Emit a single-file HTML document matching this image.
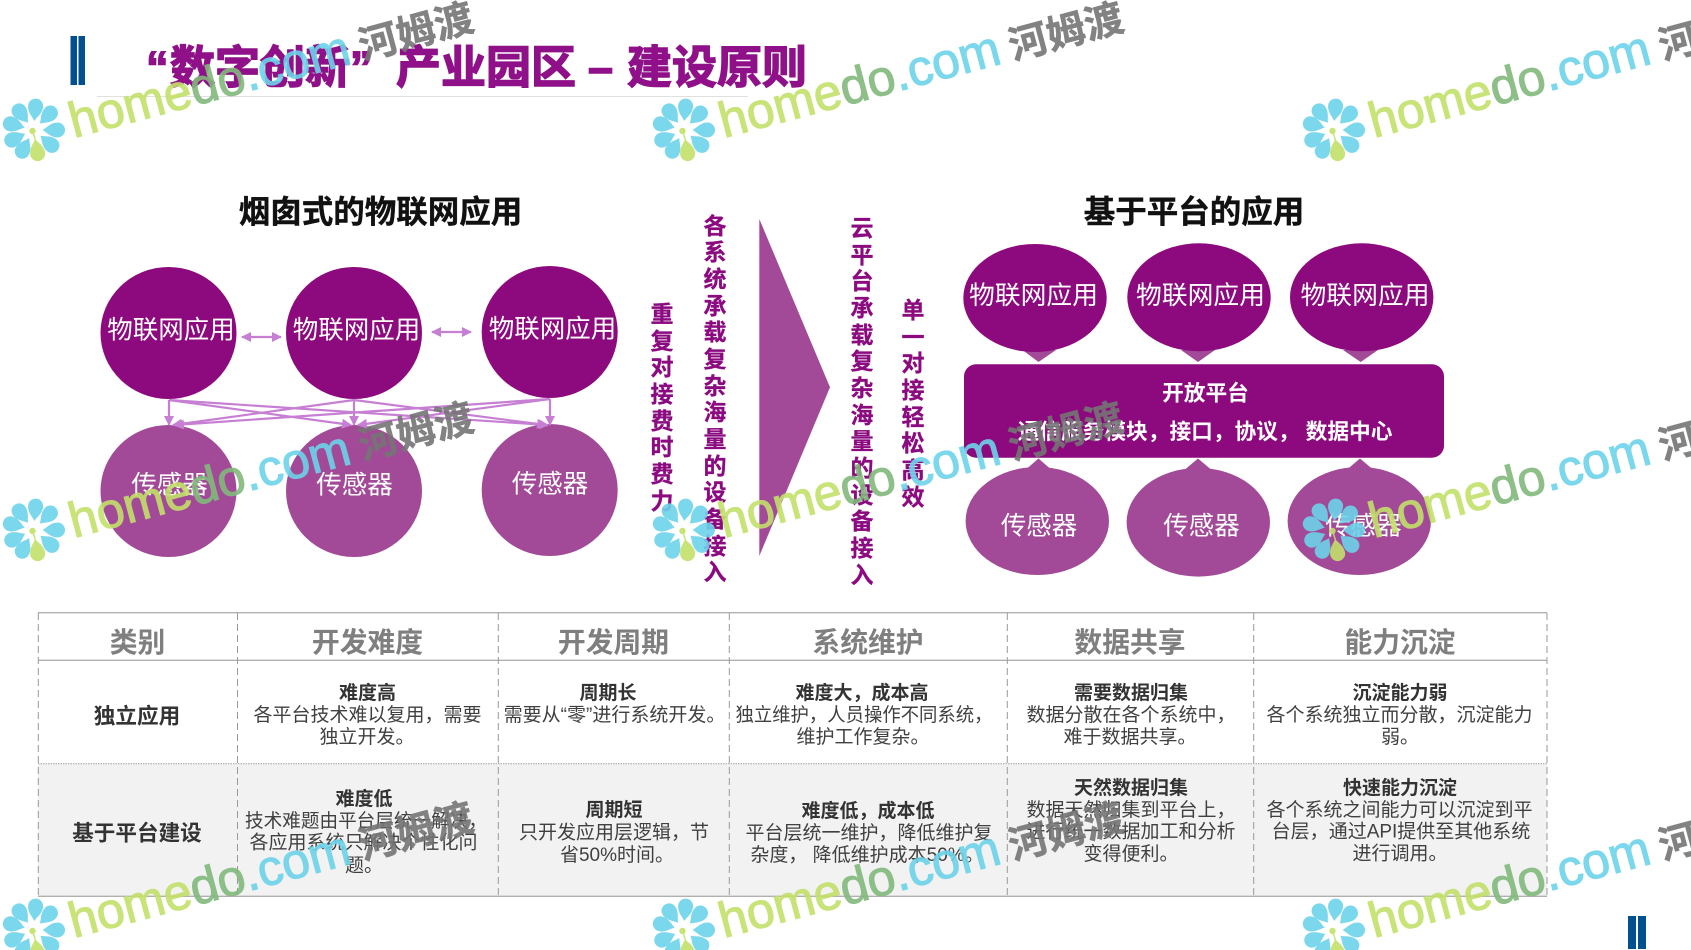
<!DOCTYPE html>
<html lang="zh-CN"><head><meta charset="utf-8"><title>“数字创新” 产业园区 – 建设原则</title>
<style>
html,body{margin:0;padding:0;background:#fff}
#p{position:relative;width:1691px;height:950px;overflow:hidden;background:#fff;font-family:"Liberation Sans","Noto Sans CJK SC",sans-serif}
svg{position:absolute;left:0;top:0}
svg text{font-family:"Liberation Sans","Noto Sans CJK SC",sans-serif}
svg tspan.p{font-family:"Noto Sans CJK TC",sans-serif}
.v{position:absolute;width:26px;font-size:23px;line-height:26.67px;font-weight:bold;color:#8b0a80;text-align:center;word-break:break-all;z-index:1;-webkit-text-stroke:.3px #8b0a80}
.t{font-size:45px;font-weight:bold;fill:#8f1088;stroke:#8f1088;stroke-width:1.4}
.h{font-size:31.5px;font-weight:bold;fill:#111;text-anchor:middle;stroke:#111;stroke-width:.4}
.w{font-size:25.5px;fill:#fff;text-anchor:middle}
.b{font-size:21.7px;font-weight:bold;fill:#fff;text-anchor:middle}
.th{font-size:27.8px;font-weight:bold;fill:#7f7f7f;text-anchor:middle}
.l{font-size:21.6px;font-weight:bold;fill:#333;text-anchor:middle}
.c{font-size:19px;fill:#404040;text-anchor:middle}
.s{font-size:19px;font-weight:bold;fill:#333;text-anchor:middle}
.hm{font-size:50px;stroke-width:1.1}
.g1{fill:#c3e06a;stroke:#c3e06a}
.g2{fill:#82b97c;stroke:#82b97c}
.g3{fill:#6dd3ea;stroke:#6dd3ea}
.he{font-size:39px;font-weight:bold;fill:#757575;stroke:#757575;stroke-width:.5}
</style></head><body><div id="p">
<svg width="1691" height="950" viewBox="0 0 1691 950" xmlns="http://www.w3.org/2000/svg">
<defs>
<marker id="a" viewBox="0 0 10 10" refX="9" refY="5" markerWidth="10" markerHeight="10" markerUnits="userSpaceOnUse" orient="auto-start-reverse"><path d="M0,0L10,5L0,10Z" fill="#c67fd3"/></marker>
<path id="pt" d="M0,-9C-2,-13 -7.5,-17 -7.5,-24A7.5 7.5 0 0 1 7.5,-24C7.5,-17 2,-13 0,-9Z"/>
<g id="fl">
<g fill="#6dd3ea">
<use href="#pt" transform="rotate(5)"/>
<use href="#pt" transform="rotate(45)"/>
<use href="#pt" transform="rotate(90)"/>
<use href="#pt" transform="rotate(130)"/>
<use href="#pt" transform="rotate(208)"/>
<use href="#pt" transform="rotate(245)"/>
<use href="#pt" transform="rotate(285)"/>
<use href="#pt" transform="rotate(323)"/>
</g>
<g fill="#c3e06a">
<use href="#pt" transform="rotate(170)"/>
<circle cx="-1" cy="1" r="3.2"/><path d="M-1,1L2,10" stroke="#c3e06a" stroke-width="1.4"/>
</g>
</g>
</defs>

<!-- header -->
<rect x="70.5" y="36" width="6.5" height="49" fill="#02508f"/><rect x="78.5" y="36" width="6.5" height="49" fill="#02508f"/>
<line x1="97" y1="96.5" x2="748" y2="96.5" stroke="#e0e0e0" stroke-width="1"/>
<text class="t" y="83" x="146">“</text>
<text class="t" y="83" x="170">数字创新</text>
<text class="t" y="83" x="350">”</text>
<text class="t" y="83" x="396">产业园区</text>
<text class="t" y="83" x="588">–</text>
<text class="t" y="83" x="627">建设原则</text>

<text class="h" x="380.5" y="222.5">烟囱式的物联网应用</text>
<text class="h" x="1194" y="222.5">基于平台的应用</text>

<!-- left circles -->
<g fill="#8c0a7e">
<ellipse cx="168.5" cy="333" rx="68" ry="66"/><ellipse cx="354" cy="333" rx="68" ry="66"/><ellipse cx="549.7" cy="332" rx="68" ry="66"/>
</g>
<g fill="#a24a98">
<ellipse cx="168.5" cy="491" rx="68" ry="66"/><ellipse cx="354" cy="491" rx="68" ry="66"/><ellipse cx="549.7" cy="490" rx="68" ry="66"/>
</g>
<text class="w" x="171" y="338.5">物联网应用</text><text class="w" x="356.5" y="338.5">物联网应用</text><text class="w" x="552.5" y="337.5">物联网应用</text>
<text class="w" x="169.5" y="493.5">传感器</text><text class="w" x="354.5" y="493.5">传感器</text><text class="w" x="550" y="492.5">传感器</text>

<g stroke="#c67fd3" stroke-width="2.2" fill="none">
<line x1="242" y1="337" x2="281" y2="337" marker-start="url(#a)" marker-end="url(#a)"/>
<line x1="432" y1="332" x2="471" y2="332" marker-start="url(#a)" marker-end="url(#a)"/>
<line x1="169" y1="400" x2="169" y2="425" marker-end="url(#a)"/>
<line x1="169" y1="400" x2="351" y2="425" marker-end="url(#a)"/>
<line x1="169" y1="400" x2="548" y2="425" marker-end="url(#a)"/>
<line x1="354" y1="400" x2="173" y2="425" marker-end="url(#a)"/>
<line x1="354" y1="400" x2="354" y2="425" marker-end="url(#a)"/>
<line x1="354" y1="400" x2="546" y2="425" marker-end="url(#a)"/>
<line x1="550" y1="399" x2="175" y2="425" marker-end="url(#a)"/>
<line x1="550" y1="399" x2="358" y2="425" marker-end="url(#a)"/>
<line x1="550" y1="399" x2="550" y2="425" marker-end="url(#a)"/>
</g>

<!-- middle arrow -->
<polygon points="759.3,219 830,387.3 759.3,556" fill="#a24a98"/>

<!-- right diagram -->
<g fill="#a24a98">
<polygon points="1022.5,350 1056,350 1038.5,362"/><polygon points="1181,350 1215,350 1198,362"/><polygon points="1343,350 1378,350 1360.7,362"/>
<polygon points="1023,472 1054,472 1038.5,458.5"/><polygon points="1182,472 1214,472 1198,458.5"/><polygon points="1344,472 1376,472 1360,458.5"/>
<ellipse cx="1037.3" cy="521" rx="71.7" ry="54"/><ellipse cx="1198.3" cy="522.3" rx="71.7" ry="54.3"/><ellipse cx="1359.3" cy="521" rx="71.7" ry="54"/>
</g>
<g fill="#8c0a7e">
<ellipse cx="1035" cy="298" rx="71.7" ry="54"/><ellipse cx="1199" cy="297.3" rx="71.7" ry="54"/><ellipse cx="1361.7" cy="297.3" rx="71.7" ry="54"/>
<rect x="964" y="364.3" width="480" height="93.4" rx="12" ry="12"/>
</g>
<g style="font-size:25.8px">
<text class="w" style="font-size:25.8px" x="1033.5" y="304">物联网应用</text><text class="w" style="font-size:25.8px" x="1200.5" y="304">物联网应用</text><text class="w" style="font-size:25.8px" x="1365" y="304">物联网应用</text>
<text class="w" x="1039" y="534.5">传感器</text><text class="w" x="1201.5" y="534.5">传感器</text><text class="w" x="1363.5" y="534.5">传感器</text>
</g>
<text class="b" x="1205.5" y="400.5">开放平台</text>
<text class="b" x="1205" y="439" xml:space="preserve">通信服务模块<tspan class="p">，</tspan>接口<tspan class="p">，</tspan>协议<tspan class="p">，</tspan> 数据中心</text>

<!-- table -->
<rect x="38" y="764" width="1509" height="132" fill="#f2f2f2"/>
<g stroke="#b0b0b0" stroke-width="1.4"><line x1="38" y1="612.7" x2="1547" y2="612.7"/><line x1="38" y1="660.3" x2="1547" y2="660.3"/><line x1="38" y1="896.3" x2="1547" y2="896.3"/></g>
<line x1="38" y1="763.7" x2="1547" y2="763.7" stroke="#aaa" stroke-width="1.2" stroke-dasharray="1.5 1"/>
<g stroke="#999" stroke-width="1" stroke-dasharray="7 4">
<line x1="38.3" y1="613" x2="38.3" y2="896"/><line x1="237.5" y1="613" x2="237.5" y2="896"/><line x1="498.3" y1="613" x2="498.3" y2="896"/><line x1="729.3" y1="613" x2="729.3" y2="896"/><line x1="1007.3" y1="613" x2="1007.3" y2="896"/><line x1="1253.7" y1="613" x2="1253.7" y2="896"/><line x1="1547" y1="613" x2="1547" y2="896"/>
</g>
<text class="th" x="137.5" y="652">类别</text><text class="th" x="367.5" y="652">开发难度</text><text class="th" x="613.5" y="652">开发周期</text><text class="th" x="868" y="652">系统维护</text><text class="th" x="1130" y="652">数据共享</text><text class="th" x="1400" y="652">能力沉淀</text>
<text class="l" x="137" y="723.5">独立应用</text><text class="l" x="137" y="840.5">基于平台建设</text>

<text class="s" x="367.5" y="699.2">难度高</text><text class="c" x="367.5" y="721">各平台技术难以复用<tspan class="p">，</tspan>需要</text><text class="c" x="367" y="743">独立开发。</text>
<text class="s" x="608" y="699.2">周期长</text><text class="c" x="614.5" y="721">需要从“零”进行系统开发。</text>
<text class="s" x="862" y="699.2">难度大<tspan class="p">，</tspan>成本高</text><text class="c" x="864" y="721" textLength="257" lengthAdjust="spacingAndGlyphs">独立维护<tspan class="p">，</tspan>人员操作不同系统<tspan class="p">，</tspan></text><text class="c" x="863" y="743">维护工作复杂。</text>
<text class="s" x="1131" y="699.2">需要数据归集</text><text class="c" x="1131" y="721">数据分散在各个系统中<tspan class="p">，</tspan></text><text class="c" x="1130" y="743">难于数据共享。</text>
<text class="s" x="1400" y="699.2">沉淀能力弱</text><text class="c" x="1399.5" y="721">各个系统独立而分散<tspan class="p">，</tspan>沉淀能力</text><text class="c" x="1400" y="743">弱。</text>

<text class="s" x="364" y="805">难度低</text><text class="c" x="366" y="827" textLength="242" lengthAdjust="spacingAndGlyphs">技术难题由平台层统一解决<tspan class="p">，</tspan></text><text class="c" x="363.5" y="848.5">各应用系统只解决个性化问</text><text class="c" x="364" y="871.5">题。</text>
<text class="s" x="614" y="816.2">周期短</text><text class="c" x="614" y="838.5">只开发应用层逻辑<tspan class="p">，</tspan>节</text><text class="c" x="617" y="861">省50%时间。</text>
<text class="s" x="868" y="817">难度低<tspan class="p">，</tspan>成本低</text><text class="c" x="869" y="839">平台层统一维护<tspan class="p">，</tspan>降低维护复</text><text class="c" x="867" y="861" xml:space="preserve">杂度<tspan class="p">，</tspan> 降低维护成本50%。</text>
<text class="s" x="1131" y="794">天然数据归集</text><text class="c" x="1131" y="816">数据天然归集到平台上<tspan class="p">，</tspan></text><text class="c" x="1131" y="837.7">进行统一数据加工和分析</text><text class="c" x="1131" y="860">变得便利。</text>
<text class="s" x="1400" y="794">快速能力沉淀</text><text class="c" x="1399.5" y="816">各个系统之间能力可以沉淀到平</text><text class="c" x="1401" y="837.5">台层<tspan class="p">，</tspan>通过API提供至其他系统</text><text class="c" x="1400" y="859.5">进行调用。</text>

<rect x="1628" y="916" width="8" height="33" fill="#02508f"/><rect x="1638" y="916" width="8" height="33" fill="#02508f"/>
</svg>

<div class="v" style="left:649px;top:301px">重复对接费时费力</div>
<div class="v" style="left:702px;top:212.5px">各系统承载复杂海量的设备接入</div>
<div class="v" style="left:849px;top:215px">云平台承载复杂海量的设备接入</div>
<div class="v" style="left:900px;top:297px">单一对接轻松高效</div>

<!-- watermark overlay -->
<svg width="1691" height="950" viewBox="0 0 1691 950" xmlns="http://www.w3.org/2000/svg" style="z-index:2;opacity:.9">
<use href="#fl" x="33.5" y="130"/><use href="#fl" x="683.5" y="130"/><use href="#fl" x="1333.5" y="130"/>
<use href="#fl" x="33.5" y="530"/><use href="#fl" x="683.5" y="530"/><use href="#fl" x="1333.5" y="530"/>
<use href="#fl" x="33.5" y="930"/><use href="#fl" x="683.5" y="930"/><use href="#fl" x="1333.5" y="930"/>

<text class="hm" transform="translate(74,138) rotate(-15)"><tspan class="g1">home</tspan><tspan class="g2">do</tspan><tspan class="g3">.com</tspan></text>
<text class="hm" transform="translate(724,138) rotate(-15)"><tspan class="g1">home</tspan><tspan class="g2">do</tspan><tspan class="g3">.com</tspan></text>
<text class="hm" transform="translate(1374,138) rotate(-15)"><tspan class="g1">home</tspan><tspan class="g2">do</tspan><tspan class="g3">.com</tspan></text>
<text class="hm" transform="translate(74,538) rotate(-15)"><tspan class="g1">home</tspan><tspan class="g2">do</tspan><tspan class="g3">.com</tspan></text>
<text class="hm" transform="translate(724,538) rotate(-15)"><tspan class="g1">home</tspan><tspan class="g2">do</tspan><tspan class="g3">.com</tspan></text>
<text class="hm" transform="translate(1374,538) rotate(-15)"><tspan class="g1">home</tspan><tspan class="g2">do</tspan><tspan class="g3">.com</tspan></text>
<text class="hm" transform="translate(74,938) rotate(-15)"><tspan class="g1">home</tspan><tspan class="g2">do</tspan><tspan class="g3">.com</tspan></text>
<text class="hm" transform="translate(724,938) rotate(-15)"><tspan class="g1">home</tspan><tspan class="g2">do</tspan><tspan class="g3">.com</tspan></text>
<text class="hm" transform="translate(1374,938) rotate(-15)"><tspan class="g1">home</tspan><tspan class="g2">do</tspan><tspan class="g3">.com</tspan></text>

<text class="he" transform="translate(363,60) rotate(-15)">河姆渡</text>
<text class="he" transform="translate(1013,60) rotate(-15)">河姆渡</text>
<text class="he" transform="translate(1663,60) rotate(-15)">河姆渡</text>
<text class="he" transform="translate(363,460) rotate(-15)">河姆渡</text>
<text class="he" transform="translate(1013,460) rotate(-15)">河姆渡</text>
<text class="he" transform="translate(1663,460) rotate(-15)">河姆渡</text>
<text class="he" transform="translate(363,860) rotate(-15)">河姆渡</text>
<text class="he" transform="translate(1013,860) rotate(-15)">河姆渡</text>
<text class="he" transform="translate(1663,860) rotate(-15)">河姆渡</text>
</svg>
</div></body></html>
